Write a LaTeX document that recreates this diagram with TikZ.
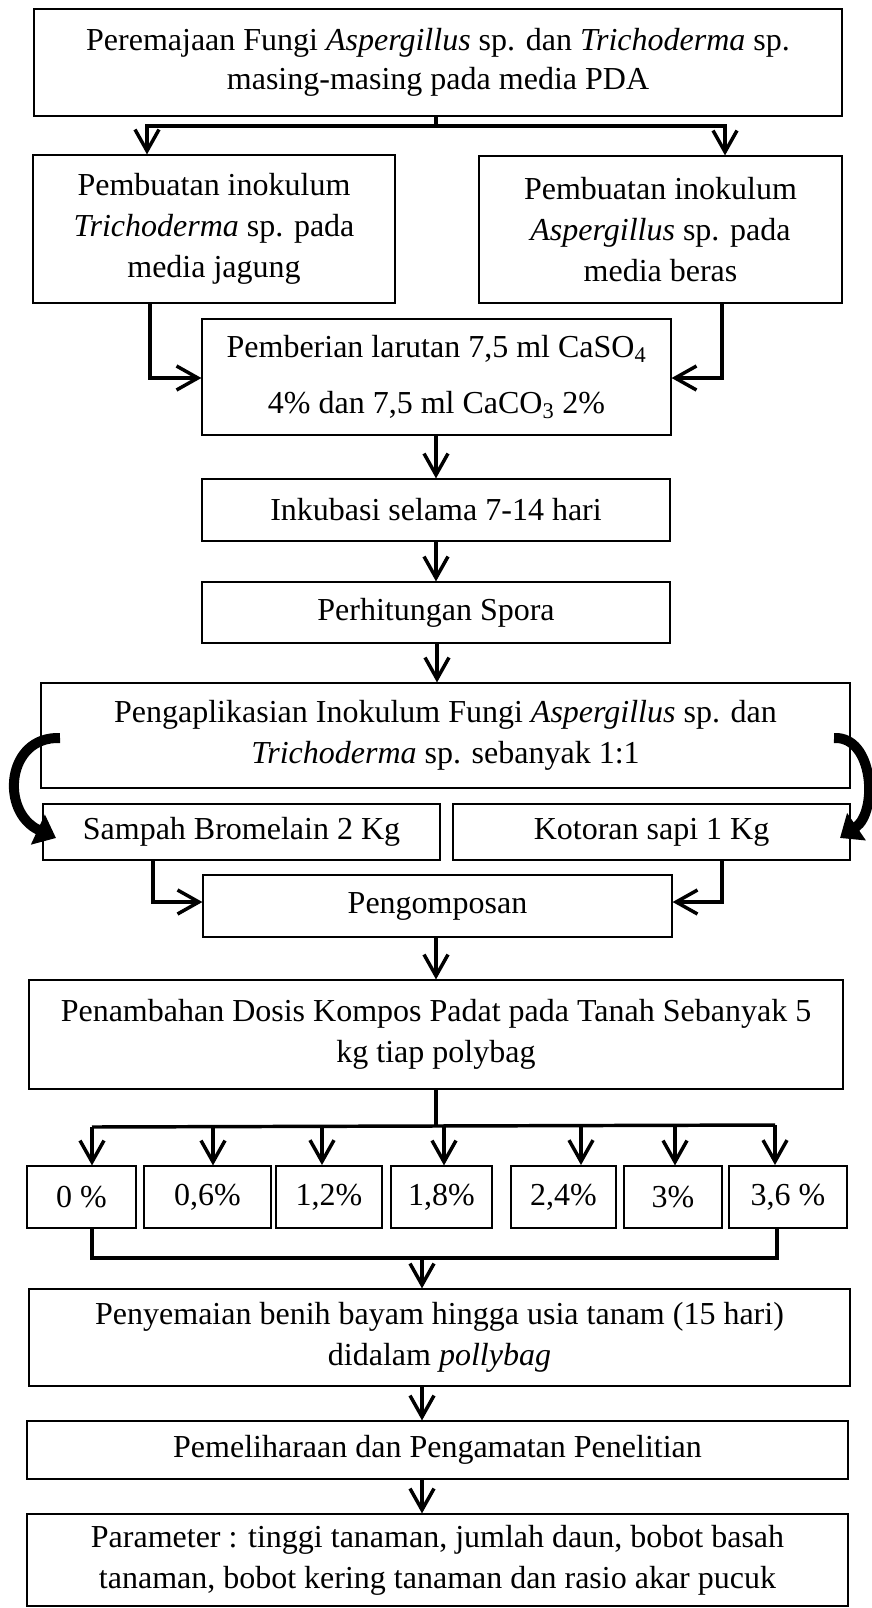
\documentclass[tikz,border=0pt]{standalone}
\usepackage{fontspec}
\setmainfont{Liberation Serif}
\usetikzlibrary{arrows.meta}
\newcommand\mybox[6][]{\node[box,minimum width={(#5-#3)*0.75pt},minimum height={(#6-#4)*0.75pt},#1] (#2) at ({(#3+#5)/2},{(#4+#6)/2})}
\begin{document}
\begin{tikzpicture}[x=0.75pt,y=-0.75pt,
  box/.style={draw, line width=0.9pt, inner sep=0pt, align=center, font=\fontsize{24}{30.75}\selectfont},
  thickbox/.style={line width=1.5pt},
  ln/.style={line width=2.6pt},
  arr/.style={line width=2.6pt, -{Straight Barb[length=16pt,width=18pt]}},
  curv/.style={line width=7.5pt, -{Triangle[length=15pt,width=24pt]}}]
\fill[white] (0,0) rectangle (871,1608);
\useasboundingbox (0,0) rectangle (871,1608);

% boxes
\mybox[font=\fontsize{24}{29.25}\selectfont]{top}{34}{9}{842}{116}{Peremajaan Fungi \textit{Aspergillus} sp. dan \textit{Trichoderma} sp.\\ masing-masing pada media PDA};
\mybox{lbox}{33}{155}{395}{303}{Pembuatan inokulum\\ \textit{Trichoderma} sp. pada\\ media jagung};
\mybox{rbox}{479}{156}{842}{303}{Pembuatan inokulum\\ \textit{Aspergillus} sp. pada\\ media beras};
\mybox[font=\fontsize{24}{42}\selectfont]{pem}{202}{319}{671}{435}{Pemberian larutan 7,5 ml CaSO\textsubscript{4}\\ 4\% dan 7,5 ml CaCO\textsubscript{3} 2\%};
\mybox{ink}{202}{479}{670}{541}{Inkubasi selama 7-14 hari};
\mybox{perh}{202}{582}{670}{643}{Perhitungan Spora};
\mybox{apl}{41}{683}{850}{788}{Pengaplikasian Inokulum Fungi \textit{Aspergillus} sp. dan\\ \textit{Trichoderma} sp. sebanyak 1:1};
\mybox{samp}{43}{804}{440}{860}{Sampah Bromelain 2 Kg};
\mybox{kot}{453}{804}{850}{860}{Kotoran sapi 1 Kg};
\mybox{komp}{203}{875}{672}{937}{Pengomposan};
\mybox{pen}{29}{980}{843}{1089}{Penambahan Dosis Kompos Padat pada Tanah Sebanyak 5\\ kg tiap polybag};
\mybox{p0}{27}{1166}{136}{1228}{0 \%};
\mybox{p1}{144}{1166}{271}{1228}{0,6\%};
\mybox[thickbox]{p2}{276}{1166}{382}{1228}{\raisebox{3pt}{1,2\%}};
\mybox{p3}{391}{1166}{492}{1228}{1,8\%};
\mybox[thickbox]{p4}{511}{1166}{616}{1228}{\raisebox{3pt}{2,4\%}};
\mybox{p5}{624}{1166}{722}{1228}{3\%};
\mybox[thickbox]{p6}{729}{1166}{847}{1228}{3,6 \%};
\mybox{peny}{29}{1289}{850}{1386}{Penyemaian benih bayam hingga usia tanam (15 hari)\\ didalam \textit{pollybag}};
\mybox{pml}{27}{1421}{848}{1479}{Pemeliharaan dan Pengamatan Penelitian};
\mybox{par}{27}{1514}{848}{1606}{Parameter : tinggi tanaman, jumlah daun, bobot basah\\ tanaman, bobot kering tanaman dan rasio akar pucuk};

% top split
\coordinate (j1) at (436,126);
\coordinate (a1) at (147,126);
\coordinate (a2) at (725,126);
\draw[ln] (top.south -| j1) -- (j1);
\draw[arr] (j1) -| (lbox.north -| a1);
\draw[arr] (j1) -| (rbox.north -| a2);

% merge into pem
\coordinate (b1) at (150,378);
\coordinate (b2) at (722,378);
\draw[arr] (lbox.south -| b1) |- (pem.west |- b1);
\draw[arr] (rbox.south -| b2) |- (pem.east |- b2);

% vertical chain
\coordinate (v1) at (436,0);
\draw[arr] (pem.south -| v1) -- (ink.north -| v1);
\draw[arr] (ink.south -| v1) -- (perh.north -| v1);
\coordinate (v2) at (437,0);
\draw[arr] (perh.south -| v2) -- (apl.north -| v2);

% curved arrows
\coordinate (cl1) at (60,738);
\coordinate (cl2) at (56,838);
\draw[curv] (cl1) .. controls (6,736) and (0,812) .. (cl2);
\coordinate (cr1) at (834,738);
\coordinate (cr2) at (840,838);
\draw[curv] (cr1) .. controls (874,736) and (878,812) .. (cr2);

% merge into komp
\coordinate (c1) at (153,902);
\coordinate (c2) at (722,902);
\draw[arr] (samp.south -| c1) |- (komp.west |- c1);
\draw[arr] (kot.south -| c2) |- (komp.east |- c2);
\draw[arr] (komp.south -| v1) -- (pen.north -| v1);

% split into dose boxes
\coordinate (j2) at (436,1126);
\coordinate (h1) at (92,1127);
\coordinate (h2) at (775,1125);
\draw[ln] (pen.south -| j2) -- (j2);
\draw[ln] (h1) -- (h2);
\foreach \n/\x/\y in {p0/92/1127, p1/213/1127, p2/322/1126, p3/444/1126, p4/581/1125, p5/675/1125, p6/775/1125}{
  \coordinate (t) at (\x,\y);
  \draw[arr] (t) -- (t |- \n.north);
}

% collector
\coordinate (d1) at (92,1258);
\coordinate (d2) at (777,1258);
\draw[ln] (p0.south -| d1) |- (d2) -- (p6.south -| d2);
\coordinate (j3) at (422,1258);
\draw[arr] (j3) -- (peny.north -| j3);
\draw[arr] (peny.south -| j3) -- (pml.north -| j3);
\draw[arr] (pml.south -| j3) -- (par.north -| j3);
\end{tikzpicture}
\end{document}
